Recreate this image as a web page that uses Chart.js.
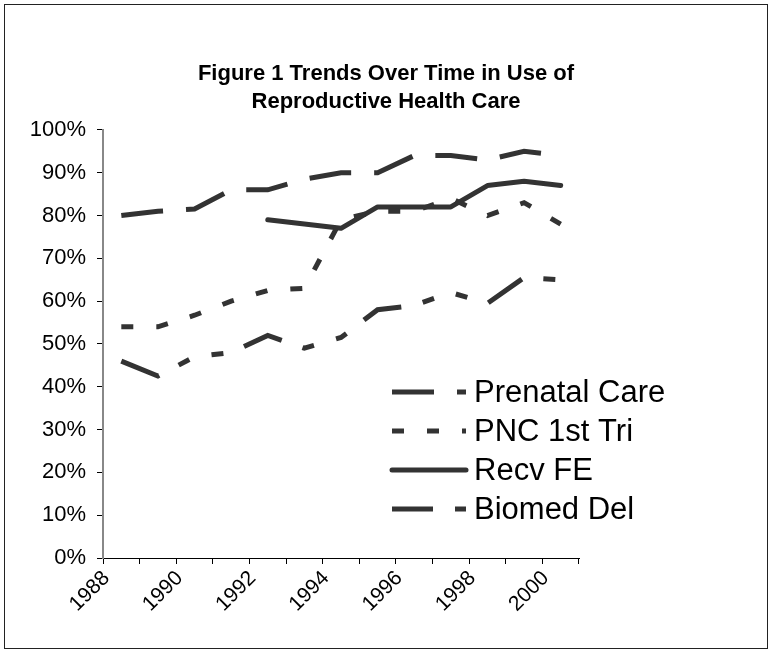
<!DOCTYPE html>
<html>
<head>
<meta charset="utf-8">
<title>Figure 1 Trends Over Time in Use of Reproductive Health Care</title>
<script src="https://cdn.jsdelivr.net/npm/chart.js@4.4.0/dist/chart.umd.min.js"></script>
<style>
  html, body { margin: 0; padding: 0; background: #fff; }
</style>
</head>
<body>
<canvas id="myChart" width="772" height="653"></canvas>
<script>
// data (percent)
const years = ['1988', '1989', '1990', '1991', '1992', '1993', '1994', '1995', '1996', '1997', '1998', '1999', '2000'];
const prenatalCare = [80, 81, 81.5, 86, 86, 88.5, 90, 90, 94, 94, 93, 95, 94];
const pncFirstTri = [54, 54, 56.7, 60, 62.5, 63, 79, 81, 81, 84, 80, 83, 78];
const recvFE = [null, null, null, null, 79, 78, 77, 82, 82, 82, 87, 88, 87];
const biomedDel = [46, 42.5, 47, 48, 52, 49, 51.5, 58, 59, 62, 59.5, 65.5, 65];
const seriesNames = ['Prenatal Care', 'PNC 1st Tri', 'Recv FE', 'Biomed Del'];
const titleLines = ['Figure 1 Trends Over Time in Use of', 'Reproductive Health Care'];

const lineColor = '#333333';
const fontFamily = '"Liberation Sans", Arial, sans-serif';

// outer frame of the chart
const framePlugin = {
  id: 'frame',
  beforeDraw(chart) {
    const ctx = chart.ctx;
    ctx.save();
    ctx.fillStyle = '#fff';
    ctx.fillRect(0, 0, chart.width, chart.height);
    ctx.strokeStyle = '#222';
    ctx.lineWidth = 1;
    ctx.strokeRect(4.5, 4.5, chart.width - 9, chart.height - 9);
    ctx.restore();
  }
};

// legend sits over the lower right of the plot, like the excel one
const sideLegend = {
  id: 'sideLegend',
  afterDraw(chart) {
    const ctx = chart.ctx;
    const x0 = 392, x1 = 466, textX = 474, y0 = 392, rowH = 39;
    ctx.save();
    chart.data.datasets.forEach((ds, i) => {
      const y = y0 + i * rowH;
      ctx.strokeStyle = ds.borderColor;
      ctx.lineWidth = ds.borderWidth;
      ctx.lineCap = ds.borderCapStyle || 'butt';
      ctx.setLineDash(ds.borderDash || []);
      ctx.beginPath();
      ctx.moveTo(x0, y);
      ctx.lineTo(x1, y);
      ctx.stroke();
      ctx.setLineDash([]);
      ctx.fillStyle = '#000';
      ctx.font = '31px ' + fontFamily;
      ctx.textBaseline = 'middle';
      ctx.fillText(ds.label, textX, y + 1);
    });
    ctx.restore();
  }
};

const data = {
  labels: years,
  datasets: [
    {
      label: seriesNames[0],
      data: prenatalCare,
      borderColor: lineColor,
      borderWidth: 5,
      borderDash: [42, 23],
      borderCapStyle: 'butt'
    },
    {
      label: seriesNames[1],
      data: pncFirstTri,
      borderColor: lineColor,
      borderWidth: 5,
      borderDash: [12, 23],
      borderCapStyle: 'butt'
    },
    {
      label: seriesNames[2],
      data: recvFE,
      borderColor: lineColor,
      borderWidth: 5,
      borderCapStyle: 'round',
      borderJoinStyle: 'round'
    },
    {
      label: seriesNames[3],
      data: biomedDel,
      borderColor: lineColor,
      borderWidth: 5,
      borderDash: [41, 22, 12, 23, 12, 22],
      borderCapStyle: 'butt'
    }
  ]
};

const config = {
  type: 'line',
  data,
  options: {
    responsive: false,
    animation: false,
    devicePixelRatio: 1,
    layout: {
      padding: { left: 0, right: 0, top: 46, bottom: 15 }
    },
    elements: {
      point: { radius: 0, hoverRadius: 0 },
      line: { tension: 0, fill: false }
    },
    plugins: {
      legend: { display: false },
      tooltip: { enabled: false },
      title: {
        display: true,
        text: titleLines,
        color: '#000',
        font: { family: fontFamily, size: 22, weight: 'bold', lineHeight: 1.27 },
        padding: { top: 14, bottom: 14 }
      }
    },
    scales: {
      x: {
        type: 'category',
        offset: true,
        grid: { offset: true, drawOnChartArea: false, color: '#000', tickLength: 6 },
        border: { color: '#000', width: 1 },
        ticks: {
          autoSkip: false,
          minRotation: 45,
          maxRotation: 45,
          labelOffset: -15,
          padding: 2,
          color: '#000',
          font: { family: fontFamily, size: 21 },
          callback: function (val, i) {
            return i % 2 === 0 ? this.getLabelForValue(val) : '';
          }
        },
        afterFit(scale) { scale.height = 80; }
      },
      y: {
        min: 0,
        max: 100,
        grid: { drawOnChartArea: false, color: '#000', tickLength: 6 },
        border: { color: '#888', width: 2 },
        ticks: {
          stepSize: 10,
          padding: 11,
          color: '#000',
          font: { family: fontFamily, size: 22 },
          callback: v => v + '%'
        },
        afterFit(scale) { scale.width = 103; }
      },
      // empty axis on the right, only holds the space where the legend hangs out
      spacer: {
        position: 'right',
        grid: { display: false },
        border: { display: false },
        ticks: { display: false },
        afterFit(scale) { scale.width = 193; }
      }
    }
  },
  plugins: [framePlugin, sideLegend]
};

const myChart = new Chart(document.getElementById('myChart'), config);
</script>
</body>
</html>
